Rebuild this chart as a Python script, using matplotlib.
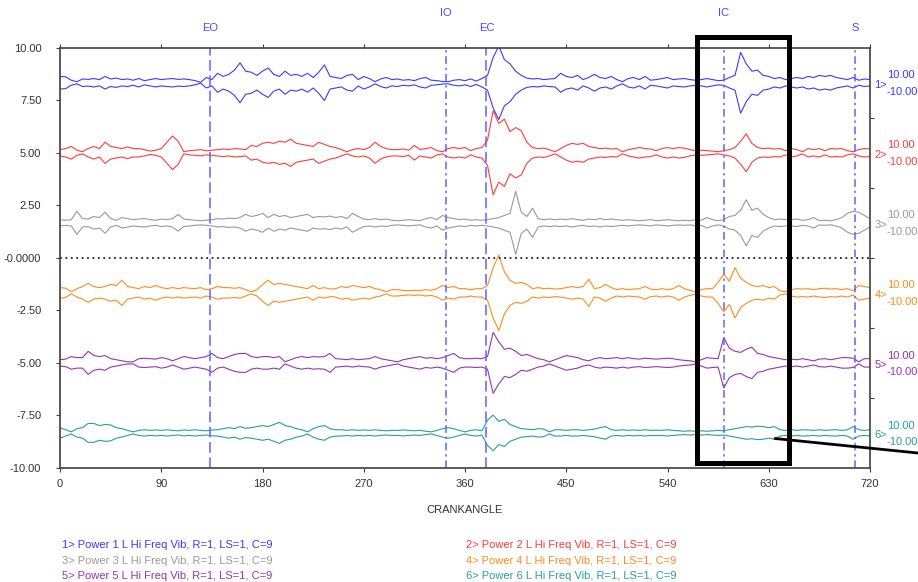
import numpy as np
import matplotlib
matplotlib.use("Agg")
import matplotlib.pyplot as plt
from matplotlib.patches import Rectangle

plt.rcParams['font.family'] = ['Liberation Sans Narrow', 'Liberation Sans', 'DejaVu Sans']

# ---------------- DATA ----------------
# crank angle samples every 5 degrees, 0..720
crank_angle = np.arange(0, 725, 5)

# vibration envelope half-width (units), 5 deg steps
amp_1 = [0.30, 0.28, 0.12, 0.05, 0.18, 0.16, 0.20, 0.15, 0.30, 0.18,
         0.22, 0.15, 0.18, 0.12, 0.20, 0.10, 0.15, 0.20, 0.15, 0.18,
         0.20, 0.16, 0.18, 0.15, 0.10, 0.02, 0.25, 0.15, 0.45, 0.30,
         0.40, 0.60, 0.95, 0.55, 0.50, 0.35, 0.55, 0.70, 0.40, 0.30,
         0.55, 0.35, 0.40, 0.30, 0.45, 0.25, 0.50, 0.85, 0.30, 0.25,
         0.20, 0.35, 0.40, 0.15, 0.30, 0.20, 0.05, 0.18, 0.25, 0.15,
         0.18, 0.12, 0.15, 0.10, 0.20, 0.25, 0.12, 0.10, 0.06, 0.05,
         0.12, 0.15, 0.10, 0.18, 0.08, 0.20, 0.35, 1.20, 1.75, 1.10,
         0.90, 0.55, 0.35, 0.22, 0.18, 0.20, 0.15, 0.18, 0.20, 0.45,
         0.30, 0.25, 0.35, 0.15, 0.25, 0.40, 0.25, 0.20, 0.30, 0.15,
         0.05, 0.20, 0.25, 0.15, 0.30, 0.12, 0.15, 0.20, 0.25, 0.15,
         0.18, 0.20, 0.15, 0.12, 0.15, 0.20, 0.15, 0.10, 0.12, 0.25,
         0.35, 1.45, 0.90, 0.55, 0.60, 0.35, 0.30, 0.20, 0.25, 0.15,
         0.20, 0.25, 0.20, 0.30, 0.25, 0.35, 0.30, 0.35, 0.25, 0.20,
         0.15, 0.25, 0.12, 0.18, 0.15]

amp_2 = [0.15, 0.20, 0.30, 0.12, 0.05, 0.20, 0.30, 0.20, 0.50, 0.30,
         0.25, 0.20, 0.28, 0.20, 0.20, 0.15, 0.08, 0.12, 0.20, 0.50,
         0.80, 0.55, 0.05, 0.10, 0.12, 0.15, 0.10, 0.12, 0.15, 0.18,
         0.15, 0.20, 0.18, 0.15, 0.35, 0.30, 0.45, 0.50, 0.45, 0.55,
         0.50, 0.65, 0.45, 0.40, 0.35, 0.30, 0.50, 0.40, 0.30, 0.25,
         0.15, 0.05, 0.15, 0.20, 0.15, 0.25, 0.50, 0.30, 0.20, 0.15,
         0.15, 0.18, 0.12, 0.35, 0.15, 0.20, 0.25, 0.10, 0.05, 0.20,
         0.25, 0.20, 0.25, 0.10, 0.20, 0.25, 0.60, 2.00, 1.40, 1.60,
         1.00, 1.20, 1.05, 0.50, 0.25, 0.20, 0.22, 0.15, 0.05, 0.20,
         0.35, 0.45, 0.40, 0.45, 0.30, 0.25, 0.20, 0.22, 0.18, 0.20,
         0.05, 0.15, 0.20, 0.25, 0.20, 0.18, 0.10, 0.20, 0.25, 0.20,
         0.25, 0.22, 0.15, 0.10, 0.12, 0.10, 0.08, 0.05, 0.10, 0.15,
         0.25, 0.55, 0.90, 0.45, 0.25, 0.20, 0.22, 0.18, 0.20, 0.10,
         0.20, 0.15, 0.05, 0.20, 0.15, 0.20, 0.10, 0.20, 0.18, 0.20,
         0.10, 0.05, 0.15, 0.20, 0.18]

amp_3 = [0.15, 0.12, 0.15, 0.55, 0.20, 0.18, 0.30, 0.25, 0.50, 0.20,
         0.12, 0.25, 0.20, 0.15, 0.18, 0.20, 0.15, 0.12, 0.18, 0.15,
         0.20, 0.40, 0.18, 0.15, 0.12, 0.10, 0.12, 0.15, 0.20, 0.18,
         0.22, 0.20, 0.25, 0.40, 0.30, 0.35, 0.45, 0.25, 0.40, 0.30,
         0.35, 0.25, 0.30, 0.35, 0.40, 0.25, 0.30, 0.28, 0.32, 0.25,
         0.30, 0.20, 0.45, 0.30, 0.18, 0.15, 0.20, 0.15, 0.18, 0.12,
         0.10, 0.12, 0.15, 0.12, 0.10, 0.20, 0.25, 0.15, 0.35, 0.25,
         0.20, 0.15, 0.18, 0.12, 0.15, 0.12, 0.15, 0.20, 0.25, 0.35,
         0.45, 1.50, 0.50, 0.30, 0.70, 0.20, 0.15, 0.18, 0.15, 0.18,
         0.15, 0.20, 0.15, 0.12, 0.18, 0.15, 0.20, 0.15, 0.18, 0.15,
         0.12, 0.15, 0.12, 0.10, 0.12, 0.15, 0.10, 0.12, 0.15, 0.12,
         0.10, 0.12, 0.10, 0.15, 0.12, 0.25, 0.15, 0.10, 0.15, 0.30,
         0.35, 0.60, 1.10, 0.60, 0.70, 0.40, 0.25, 0.15, 0.18, 0.15,
         0.15, 0.18, 0.12, 0.15, 0.25, 0.10, 0.12, 0.10, 0.15, 0.25,
         0.45, 0.55, 0.50, 0.35, 0.20]

amp_4 = [0.25, 0.22, 0.05, 0.20, 0.30, 0.45, 0.30, 0.25, 0.30, 0.40,
         0.35, 0.60, 0.30, 0.25, 0.20, 0.30, 0.25, 0.35, 0.25, 0.20,
         0.25, 0.20, 0.25, 0.22, 0.20, 0.25, 0.15, 0.20, 0.30, 0.25,
         0.25, 0.22, 0.25, 0.15, 0.05, 0.15, 0.40, 0.60, 0.40, 0.45,
         0.40, 0.35, 0.30, 0.25, 0.20, 0.35, 0.20, 0.25, 0.18, 0.20,
         0.30, 0.25, 0.35, 0.30, 0.25, 0.30, 0.20, 0.15, 0.05, 0.15,
         0.15, 0.12, 0.10, 0.12, 0.10, 0.15, 0.12, 0.20, 0.35, 0.25,
         0.30, 0.20, 0.20, 0.15, 0.20, 0.20, 0.35, 1.20, 1.80, 1.00,
         0.60, 0.45, 0.50, 0.40, 0.20, 0.25, 0.20, 0.22, 0.18, 0.20,
         0.25, 0.30, 0.25, 0.30, 0.65, 0.20, 0.25, 0.40, 0.25, 0.15,
         0.20, 0.15, 0.18, 0.20, 0.30, 0.18, 0.15, 0.20, 0.15, 0.20,
         0.35, 0.20, 0.12, 0.05, 0.15, 0.20, 0.20, 0.50, 0.90, 0.55,
         1.20, 0.70, 0.50, 0.35, 0.30, 0.35, 0.25, 0.30, 0.10, 0.05,
         0.15, 0.20, 0.18, 0.20, 0.15, 0.20, 0.22, 0.18, 0.20, 0.15,
         0.20, 0.10, 0.35, 0.30, 0.25]

amp_5 = [0.15, 0.18, 0.30, 0.25, 0.25, 0.55, 0.35, 0.30, 0.35, 0.20,
         0.15, 0.10, 0.05, 0.05, 0.20, 0.22, 0.20, 0.18, 0.25, 0.20,
         0.10, 0.20, 0.30, 0.25, 0.20, 0.25, 0.30, 0.45, 0.25, 0.20,
         0.30, 0.40, 0.45, 0.45, 0.30, 0.25, 0.30, 0.30, 0.25, 0.30,
         0.05, 0.15, 0.25, 0.30, 0.25, 0.30, 0.28, 0.30, 0.45, 0.20,
         0.18, 0.15, 0.20, 0.15, 0.18, 0.20, 0.30, 0.20, 0.15, 0.10,
         0.05, 0.15, 0.20, 0.25, 0.30, 0.22, 0.25, 0.20, 0.25, 0.35,
         0.45, 0.25, 0.20, 0.20, 0.22, 0.20, 0.30, 1.45, 1.00, 0.65,
         0.70, 0.55, 0.35, 0.40, 0.30, 0.20, 0.15, 0.05, 0.15, 0.25,
         0.35, 0.30, 0.25, 0.15, 0.10, 0.20, 0.25, 0.20, 0.22, 0.25,
         0.20, 0.25, 0.20, 0.18, 0.22, 0.20, 0.18, 0.20, 0.22, 0.20,
         0.15, 0.12, 0.10, 0.05, 0.15, 0.25, 0.22, 0.20, 1.20, 0.70,
         0.55, 0.50, 0.65, 0.75, 0.45, 0.40, 0.30, 0.25, 0.20, 0.15,
         0.18, 0.15, 0.20, 0.15, 0.10, 0.18, 0.20, 0.15, 0.20, 0.25,
         0.25, 0.22, 0.05, 0.20, 0.20]

amp_6 = [0.25, 0.15, 0.05, 0.20, 0.25, 0.45, 0.45, 0.35, 0.40, 0.38,
         0.25, 0.20, 0.12, 0.05, 0.12, 0.15, 0.12, 0.14, 0.12, 0.15,
         0.12, 0.10, 0.14, 0.12, 0.15, 0.12, 0.10, 0.14, 0.15, 0.20,
         0.25, 0.20, 0.30, 0.22, 0.25, 0.30, 0.35, 0.30, 0.40, 0.50,
         0.35, 0.30, 0.20, 0.15, 0.05, 0.20, 0.30, 0.35, 0.20, 0.15,
         0.15, 0.12, 0.15, 0.12, 0.14, 0.12, 0.15, 0.12, 0.10, 0.12,
         0.12, 0.14, 0.12, 0.10, 0.12, 0.08, 0.05, 0.12, 0.20, 0.25,
         0.20, 0.12, 0.05, 0.12, 0.15, 0.10, 0.60, 0.85, 0.55, 0.65,
         0.40, 0.30, 0.20, 0.18, 0.15, 0.20, 0.18, 0.05, 0.15, 0.15,
         0.12, 0.15, 0.15, 0.12, 0.15, 0.18, 0.25, 0.30, 0.15, 0.12,
         0.15, 0.12, 0.14, 0.12, 0.15, 0.12, 0.13, 0.12, 0.15, 0.12,
         0.10, 0.08, 0.10, 0.08, 0.10, 0.08, 0.10, 0.12, 0.10, 0.15,
         0.20, 0.25, 0.30, 0.28, 0.32, 0.30, 0.25, 0.30, 0.15, 0.12,
         0.15, 0.12, 0.15, 0.14, 0.12, 0.15, 0.12, 0.14, 0.15, 0.12,
         0.15, 0.30, 0.15, 0.12, 0.15]

trace_amps = [amp_1, amp_2, amp_3, amp_4, amp_5, amp_6]
trace_centers = [8.333, 5.0, 1.667, -1.667, -5.0, -8.333]
trace_colors = ["#3a3aff", "#ff3c3c", "#9a9a9a", "#ff8c1a", "#9933b3", "#2a9e9e"]
trace_names = ["1> Power 1 L Hi Freq Vib, R=1, LS=1, C=9",
               "2> Power 2 L Hi Freq Vib, R=1, LS=1, C=9",
               "3> Power 3 L Hi Freq Vib, R=1, LS=1, C=9",
               "4> Power 4 L Hi Freq Vib, R=1, LS=1, C=9",
               "5> Power 5 L Hi Freq Vib, R=1, LS=1, C=9",
               "6> Power 6 L Hi Freq Vib, R=1, LS=1, C=9"]

# valve events (crank angle)
event_names = ["EO", "IO", "EC", "IC", "S"]
event_angles = [133, 343, 379, 590, 707]
event_styles = ["dash", "dashdot", "dash", "dashdot", "dashdot"]
event_label_y = [10.93, 11.64, 10.93, 11.64, 10.93]

y_ticks = [10, 7.5, 5, 2.5, 0, -2.5, -5, -7.5, -10]
y_tick_labels = ["10.00", "7.50", "5.00", "2.50", "-0.0000", "-2.50", "-5.00", "-7.50", "-10.00"]
x_ticks = [0, 90, 180, 270, 360, 450, 540, 630, 720]
band_ticks = [6.667, 3.333, 0, -3.333, -6.667]

# ---------------- FIGURE ----------------
fig = plt.figure(figsize=(9.18, 5.82), dpi=100)
ax = fig.add_axes([0.0654, 0.196, 0.8823, 0.722])
ax.set_xlim(0, 720)
ax.set_ylim(-10, 10)

for amp, c, col in zip(trace_amps, trace_centers, trace_colors):
    amp = np.array(amp)
    ax.plot(crank_angle, c + amp, color=col, lw=0.8)
    ax.plot(crank_angle, c - amp, color=col, lw=0.8)

# zero line
ax.axhline(0, color="#222222", lw=1.3, ls=(0, (1, 2)))

# valve event lines
for name, ang, st, ly in zip(event_names, event_angles, event_styles, event_label_y):
    dashes = (7, 3) if st == "dash" else (5, 2.5, 1.5, 2.5)
    ax.plot([ang, ang], [-10, 10], color="#6060ff", lw=1.1, dashes=dashes)
    ax.text(ang, ly, name, color="#4848ff", fontsize=8, ha="center", va="center", clip_on=False)

# ticks
ax.set_xticks(x_ticks)
ax.set_yticks(y_ticks)
ax.set_yticklabels(y_tick_labels)
ax.tick_params(axis="both", direction="out", length=3, color="#404040",
               labelsize=8, labelcolor="#333333")
ax.tick_params(axis="x", top=True, pad=5)
ax.tick_params(axis="y", pad=10.5)
for s in ax.spines.values():
    s.set_color("#404040")
    s.set_linewidth(1.2)

ax2 = ax.twinx()
ax2.set_ylim(-10, 10)
ax2.set_yticks(band_ticks)
ax2.tick_params(axis="y", direction="out", length=3, color="#404040", labelright=False)
for s in ax2.spines.values():
    s.set_visible(False)

# right side trace labels
for i, (c, col) in enumerate(zip(trace_centers, trace_colors)):
    ax.text(724, c - 0.1, f"{i + 1}>", color=col, fontsize=8, ha="left", va="center", clip_on=False)
    ax.text(735.5, c + 0.35, "10.00", color=col, fontsize=8, ha="left", va="center", clip_on=False)
    ax.text(734.5, c - 0.45, "-10.00", color=col, fontsize=8, ha="left", va="center", clip_on=False)

# highlight box and pointer
ax.add_patch(Rectangle((566, -9.75), 82, 20.25, fill=False, lw=3.6,
                       edgecolor="black", clip_on=False, zorder=5))
ax.annotate("", xy=(635.6, -8.6), xycoords="data",
            xytext=(1.0, 0.2216), textcoords="figure fraction",
            arrowprops=dict(arrowstyle="-", lw=2.0, color="black", shrinkA=0, shrinkB=0),
            annotation_clip=False, zorder=5)

fig.text(0.5065, 0.1237, "CRANKANGLE", fontsize=8, color="#333333", ha="center", va="center")

# legend text block
legend_x = [0.0675, 0.5076]
legend_y = [0.0636, 0.0361, 0.0103]
for i, (name, col) in enumerate(zip(trace_names, trace_colors)):
    fig.text(legend_x[i % 2], legend_y[i // 2], name, color=col, fontsize=8, ha="left", va="center")

fig.savefig("out.png", dpi=100)
